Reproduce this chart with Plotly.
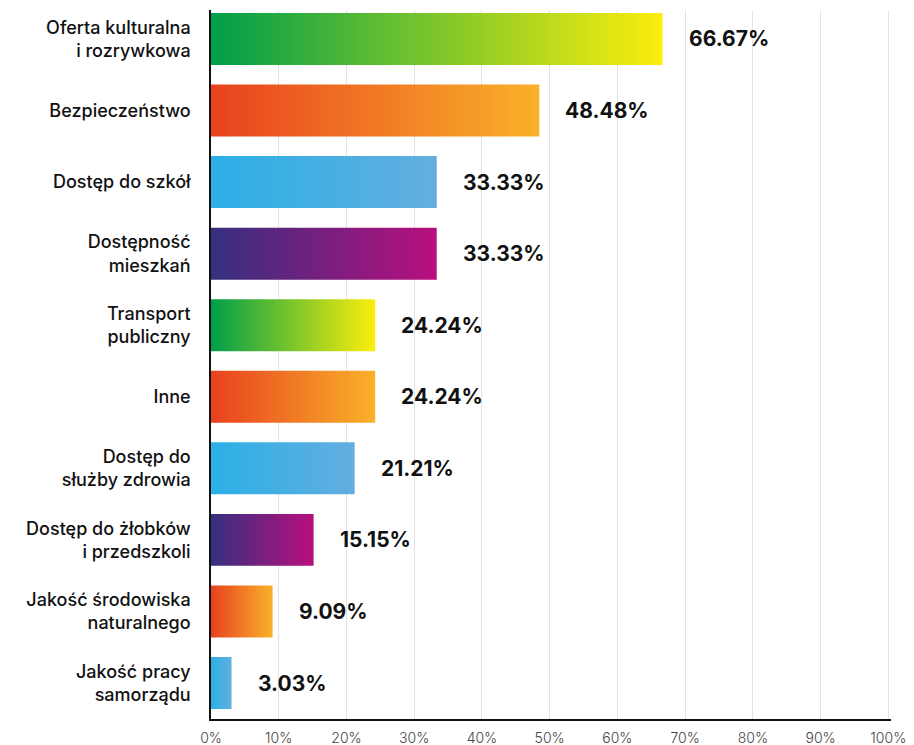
import plotly.graph_objects as go

categories = [
    "Oferta kulturalna<br>i rozrywkowa",
    "Bezpieczeństwo",
    "Dostęp do szkół",
    "Dostępność<br>mieszkań",
    "Transport<br>publiczny",
    "Inne",
    "Dostęp do<br>służby zdrowia",
    "Dostęp do żłobków<br>i przedszkoli",
    "Jakość środowiska<br>naturalnego",
    "Jakość pracy<br>samorządu",
]
values = [66.67, 48.48, 33.33, 33.33, 24.24, 24.24, 21.21, 15.15, 9.09, 3.03]
palette_keys = ["green", "orange", "blue", "purple", "green", "orange", "blue", "purple", "orange", "blue"]
x_ticks = [0, 10, 20, 30, 40, 50, 60, 70, 80, 90, 100]

gradients = {
    "green": [[0, "#009e4a"], [1, "#fcee0c"]],
    "orange": [[0, "#e8411f"], [1, "#f9b12a"]],
    "blue": [[0, "#2bb0e6"], [1, "#63aedf"]],
    "purple": [[0, "#35307f"], [1, "#b90f7e"]],
}

HALF = 0.363
FONT = "Inter"

fig = go.Figure()
for i, (v, key) in enumerate(zip(values, palette_keys)):
    fig.add_trace(go.Scatter(
        x=[0, v, v, 0, 0],
        y=[i - HALF, i - HALF, i + HALF, i + HALF, i - HALF],
        mode="lines",
        line=dict(width=0),
        fill="toself",
        fillgradient=dict(type="horizontal", colorscale=gradients[key], start=0, stop=v),
        hoverinfo="skip",
        showlegend=False,
    ))
    fig.add_annotation(
        x=v, y=i, xref="x", yref="y",
        text=f"{v:.2f}%",
        showarrow=False, xanchor="left", yanchor="middle", xshift=24,
        font=dict(family=FONT, size=21, color="#111111", weight=700),
    )

fig.update_layout(
    width=914, height=745,
    margin=dict(l=211, r=23, t=10, b=26, autoexpand=False),
    plot_bgcolor="white", paper_bgcolor="white",
    font=dict(family=FONT),
)
fig.update_xaxes(
    range=[0, 100.4],
    tickvals=x_ticks,
    ticktext=[f"{t}%" for t in x_ticks],
    showgrid=True, gridcolor="#e3e3e3", gridwidth=1,
    showline=True, linecolor="#111111", linewidth=1.5,
    zeroline=False,
    tickfont=dict(family=FONT, size=14, color="#444444", weight=300),
    ticks="", ticklabelstandoff=5,
    automargin=False,
    fixedrange=True,
)
fig.update_yaxes(
    range=[9.503, -0.405],
    tickvals=list(range(len(categories))),
    ticktext=categories,
    showgrid=False, zeroline=False,
    showline=True, linecolor="#111111", linewidth=1.5,
    tickfont=dict(family=FONT, size=18, color="#111111", weight=500),
    ticks="", ticklabelstandoff=15,
    automargin=False,
    fixedrange=True,
)

fig.write_html("out.html")
